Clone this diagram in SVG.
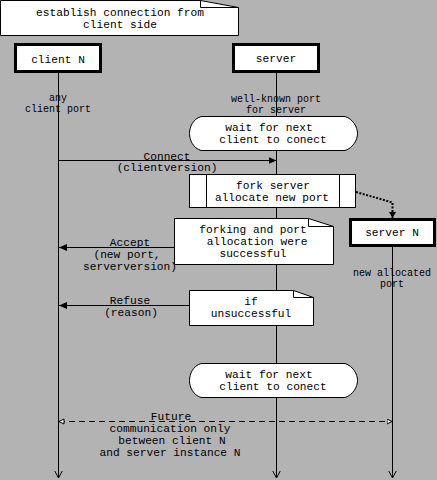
<svg xmlns="http://www.w3.org/2000/svg" width="437" height="480" viewBox="0 0 437 480">
<style>
text{font-family:"Liberation Mono","DejaVu Sans Mono",monospace;font-size:11.2px;fill:#000;text-anchor:middle}
text.s{font-size:10px}
.ln{stroke:#000;stroke-width:1;fill:none}
.box{fill:#fff;stroke:#000;stroke-width:1}
.obj{fill:#fff;stroke:#000;stroke-width:3}
</style>
<defs>
<marker id="fa" markerUnits="userSpaceOnUse" markerWidth="9" markerHeight="8" refX="8" refY="3.5" orient="auto"><path d="M0,0 L8,3.5 L0,7 z" fill="#000"/></marker>
<marker id="va" markerUnits="userSpaceOnUse" markerWidth="9" markerHeight="10" refX="7.5" refY="4.5" orient="auto"><path d="M0,0.5 L7.5,4.5 L0,8.5" fill="none" stroke="#000"/></marker>
<marker id="oa" markerUnits="userSpaceOnUse" markerWidth="7" markerHeight="7" refX="5.5" refY="3" orient="auto-start-reverse"><path d="M0.5,0.5 L5.5,3 L0.5,5.5 z" fill="#fff" stroke="#000" stroke-width="1"/></marker>
<marker id="da" markerUnits="userSpaceOnUse" markerWidth="8" markerHeight="8" refX="6" refY="3.5" orient="auto"><path d="M0,0 L6,3.5 L0,7 z" fill="#000"/></marker>
</defs>
<rect x="0" y="0" width="437" height="480" fill="#b3b3b3"/>
<g id="connectors">
<line class="ln" x1="58.5" y1="73" x2="58.5" y2="478" marker-end="url(#va)"/>
<line class="ln" x1="276.5" y1="73" x2="276.5" y2="478" marker-end="url(#va)"/>
<line class="ln" x1="392.5" y1="247" x2="392.5" y2="478" marker-end="url(#va)"/>
<line class="ln" x1="58.5" y1="160.5" x2="276.5" y2="160.5" marker-end="url(#fa)"/>
<line class="ln" x1="174" y1="247.5" x2="59" y2="247.5" marker-end="url(#fa)"/>
<line class="ln" x1="189" y1="305.5" x2="59" y2="305.5" marker-end="url(#fa)"/>
<polyline points="356,192 392.5,202.5 392.5,218" fill="none" stroke="#000" stroke-width="2" stroke-dasharray="2 1.5" marker-end="url(#da)"/>
<line class="ln" x1="59" y1="421.5" x2="392" y2="421.5" stroke-dasharray="6 4" marker-start="url(#oa)" marker-end="url(#oa)"/>
<text class="s" x="58" y="101">any</text>
<text class="s" x="58" y="112">client port</text>
<text class="s" x="276" y="102">well-known port</text>
<text class="s" x="276" y="113">for server</text>
<text class="s" x="392" y="276">new allocated</text>
<text class="s" x="392" y="287">port</text>
<text x="167" y="160">Connect</text>
<text x="167" y="171">(clientversion)</text>
<text x="130" y="246">Accept</text>
<text x="127" y="258">(new port,</text>
<text x="130" y="270">serverversion)</text>
<text x="130" y="304">Refuse</text>
<text x="131" y="316">(reason)</text>
<text x="171" y="420">Future</text>
<text x="170" y="432">communication only</text>
<text x="172" y="444">between client N</text>
<text x="170" y="456">and server instance N</text>
</g>
<g id="title-note">
<path class="box" d="M0.5,0.5 H200.5 L238.5,7.5 V35.5 H0.5 Z"/>
<polyline class="ln" points="200.5,0.5 200.5,7.5 238.5,7.5"/>
<text x="120" y="16">establish connection from</text>
<text x="120" y="28">client side</text>
</g>
<g id="client-n">
<rect class="obj" x="15.5" y="44.5" width="85" height="27"/>
<text x="58" y="63">client N</text>
</g>
<g id="server">
<rect class="obj" x="233.5" y="44.5" width="85" height="27"/>
<text x="276" y="62">server</text>
</g>
<g id="wait-1">
<path class="box" d="M201,116.5 H345 C353,119 357.5,127 357.5,133.5 C357.5,140 353,148 345,150.5 H201 C193,148 189.5,140 189.5,133.5 C189.5,127 193,119 201,116.5 Z"/>
<text x="269" y="131">wait for next</text>
<text x="273" y="143">client to conect</text>
</g>
<g id="fork-server">
<rect class="box" x="189.5" y="174.5" width="166" height="33"/>
<line class="ln" x1="206.5" y1="174.5" x2="206.5" y2="207.5"/>
<line class="ln" x1="339.5" y1="174.5" x2="339.5" y2="207.5"/>
<text x="273" y="189">fork server</text>
<text x="272" y="201">allocate new port</text>
</g>
<g id="server-n">
<rect class="obj" x="350.5" y="219.5" width="84" height="26"/>
<text x="392" y="236">server N</text>
</g>
<g id="note-success">
<path class="box" d="M174.5,218.5 H308.5 L333.5,226.5 V264.5 H174.5 Z"/>
<polyline class="ln" points="308.5,218.5 308.5,226.5 333.5,226.5"/>
<text x="253" y="233">forking and port</text>
<text x="257" y="245">allocation were</text>
<text x="253" y="257">successful</text>
</g>
<g id="note-fail">
<path class="box" d="M189.5,290.5 H293.5 L313.5,297.5 V325.5 H189.5 Z"/>
<polyline class="ln" points="293.5,290.5 293.5,297.5 313.5,297.5"/>
<text x="251" y="305">if</text>
<text x="251" y="317">unsuccessful</text>
</g>
<g id="wait-2">
<path class="box" d="M201,363.5 H345 C353,366 357.5,374 357.5,380.5 C357.5,387 353,395 345,397.5 H201 C193,395 189.5,387 189.5,380.5 C189.5,374 193,366 201,363.5 Z"/>
<text x="269" y="378">wait for next</text>
<text x="273" y="390">client to conect</text>
</g>
</svg>
